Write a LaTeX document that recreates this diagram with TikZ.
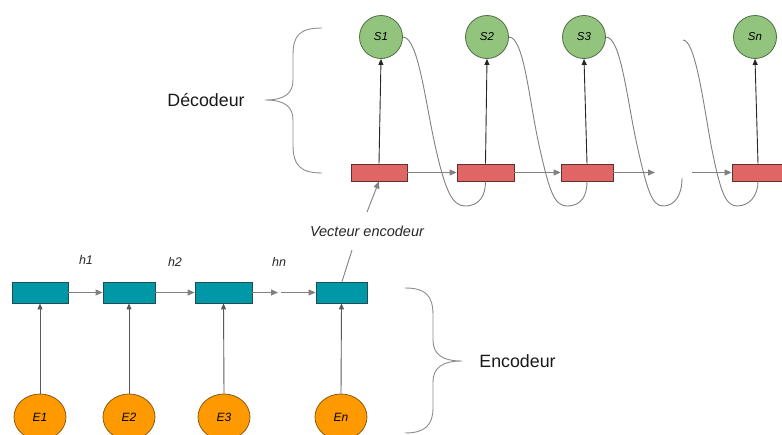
\documentclass[tikz,border=0pt]{standalone}
\usepackage{fontspec}
\setmainfont{Liberation Sans}
\usetikzlibrary{arrows.meta,shapes.geometric}
\definecolor{sgreen}{HTML}{93C47D}
\definecolor{sgreenD}{HTML}{4F6B45}
\definecolor{dred}{HTML}{E06666}
\definecolor{dredD}{HTML}{5E3030}
\definecolor{eteal}{HTML}{0097A7}
\definecolor{etealD}{HTML}{1F4F55}
\definecolor{eorange}{HTML}{FF9900}
\definecolor{eorangeD}{HTML}{8A5A10}
\definecolor{lgray}{HTML}{808080}
\definecolor{bgray}{HTML}{8C8C8C}
\tikzset{
  outnode/.style={circle, minimum size=43pt, inner sep=0pt, fill=sgreen, draw=sgreenD, line width=0.8pt, font=\fontsize{11.5}{13}\selectfont\itshape},
  decbox/.style={rectangle, minimum height=17pt, inner sep=0pt, fill=dred, draw=dredD, line width=0.8pt},
  encbox/.style={rectangle, minimum height=21pt, inner sep=0pt, fill=eteal, draw=etealD, line width=0.8pt},
  innode/.style={ellipse, minimum width=52pt, minimum height=46pt, inner sep=0pt, fill=eorange, draw=eorangeD, line width=0.8pt, font=\fontsize{12}{14}\selectfont\itshape},
  harrow/.style={draw=lgray, line width=1pt, -{Triangle[length=7pt,width=6pt]}},
  varrow/.style={draw=black!85, line width=0.9pt, -{Triangle[length=6pt,width=5pt]}},
  earrow/.style={draw=black!65, line width=0.9pt, -{Triangle[length=6pt,width=5pt]}},
  loopline/.style={draw=lgray, line width=0.9pt},
  bracestyle/.style={draw=bgray, line width=0.9pt},
  hlabel/.style={font=\fontsize{12.5}{14}\selectfont\itshape, text=black!85},
  bigtext/.style={font=\fontsize{17.8}{21}\selectfont, text=black!90}
}
\begin{document}
\begin{tikzpicture}[x=1pt,y=-1pt]
\useasboundingbox (0,0) rectangle (782,434);
% decoder outputs
\node[outnode] (S1) at (381,37) {S1};
\node[outnode] (S2) at (487,37) {S2};
\node[outnode] (S3) at (584,37) {S3};
\node[outnode] (Sn) at (755,37) {Sn};
% decoder boxes
\node[decbox, minimum width=56pt] (d1) at (379,172.5) {};
\node[decbox, minimum width=57pt] (d2) at (485.5,172.5) {};
\node[decbox, minimum width=52pt] (d3) at (587,172.5) {};
\node[decbox, minimum width=52pt] (dn) at (758,172.5) {};
% encoder boxes
\node[encbox, minimum width=56pt] (e1) at (40,292.5) {};
\node[encbox, minimum width=52pt] (e2) at (129,292.5) {};
\node[encbox, minimum width=57pt] (e3) at (223.5,292.5) {};
\node[encbox, minimum width=51pt] (en) at (341.5,292.5) {};
% inputs
\node[innode] (E1) at (40,417) {E1};
\node[innode] (E2) at (129,417) {E2};
\node[innode] (E3) at (224,417) {E3};
\node[innode] (En) at (341,417) {En};
% labels
\node[hlabel] (h1) at (86,260) {h1};
\node[hlabel] (h2) at (175,262) {h2};
\node[hlabel] (hn) at (279,262) {hn};
\node[hlabel, font=\fontsize{14.5}{17}\selectfont\itshape] (vec) at (367,231) {Vecteur encodeur};
\node[bigtext] (dec) at (206,100) {Décodeur};
\node[bigtext] (enc) at (517.5,361) {Encodeur};
% coordinates
\coordinate (d3end) at (655,172.5);
\coordinate (dnstart) at (692,172.5);
\coordinate (e3end) at (278,292.5);
\coordinate (enstart) at (281,292.5);
\coordinate (vecA) at (352,250);
\coordinate (vecB) at (367,212);
\coordinate (c3end) at (682,178);
\coordinate (c4start) at (683,40);
% horizontal arrows
\draw[harrow] (d1.east) -- (d2.west);
\draw[harrow] (d2.east) -- (d3.west);
\draw[harrow] (d3.east) -- (d3end);
\draw[harrow] (dnstart) -- (dn.west);
\draw[harrow] (e1.east) -- (e2.west);
\draw[harrow] (e2.east) -- (e3.west);
\draw[harrow] (e3.east) -- (e3end);
\draw[harrow] (enstart) -- (en.west);
% vertical arrows
\draw[varrow] (d1.north) -- (S1.south);
\draw[varrow] (d2.north) -- (S2.south);
\draw[varrow] (d3.north) -- (S3.south);
\draw[varrow] (dn.north) -- (Sn.south);
\draw[earrow] (E1.north) -- (e1.south);
\draw[earrow] (E2.north) -- (e2.south);
\draw[earrow] (E3.north) -- (e3.south);
\draw[earrow] (En.north) -- (en.south);
% encoder vector
\draw[loopline] (en.north) ++(0.5,0) -- (vecA);
\draw[harrow, line width=0.9pt] (vecB) -- (d1.south);
% loops
\draw[loopline] (S1.east) .. controls (418,37) and (425,100) .. (435,145)
  .. controls (445,190) and (452,206) .. (465,206)
  .. controls (480,206) and (485.5,195) .. (d2.south);
\draw[loopline] (S2.east) .. controls (524,37) and (529,100) .. (539,145)
  .. controls (549,190) and (554,206) .. (567,206)
  .. controls (582,206) and (587,195) .. (d3.south);
\draw[loopline] (S3.east) .. controls (621,37) and (627,100) .. (637,145)
  .. controls (647,190) and (652,206) .. (663,206)
  .. controls (675,206) and (682,195) .. (c3end);
\draw[loopline] (c4start) .. controls (695,40) and (703,100) .. (711,145)
  .. controls (720,190) and (725,206) .. (737,206)
  .. controls (750,206) and (758,195) .. (dn.south);
% braces
\draw[bracestyle] (322,28) .. controls (300,28) and (293,35) .. (293,55) -- (293,80)
  .. controls (293,93) and (285,100) .. (265,100)
  .. controls (285,100) and (293,107) .. (293,120) -- (293,145)
  .. controls (293,165) and (300,173) .. (322,173);
\draw[bracestyle] (405,288) .. controls (425,288) and (433,295) .. (433,315) -- (433,340)
  .. controls (433,354) and (442,361) .. (462,361)
  .. controls (442,361) and (433,368) .. (433,382) -- (433,408)
  .. controls (433,425) and (425,433) .. (405,433);
\end{tikzpicture}
\end{document}
